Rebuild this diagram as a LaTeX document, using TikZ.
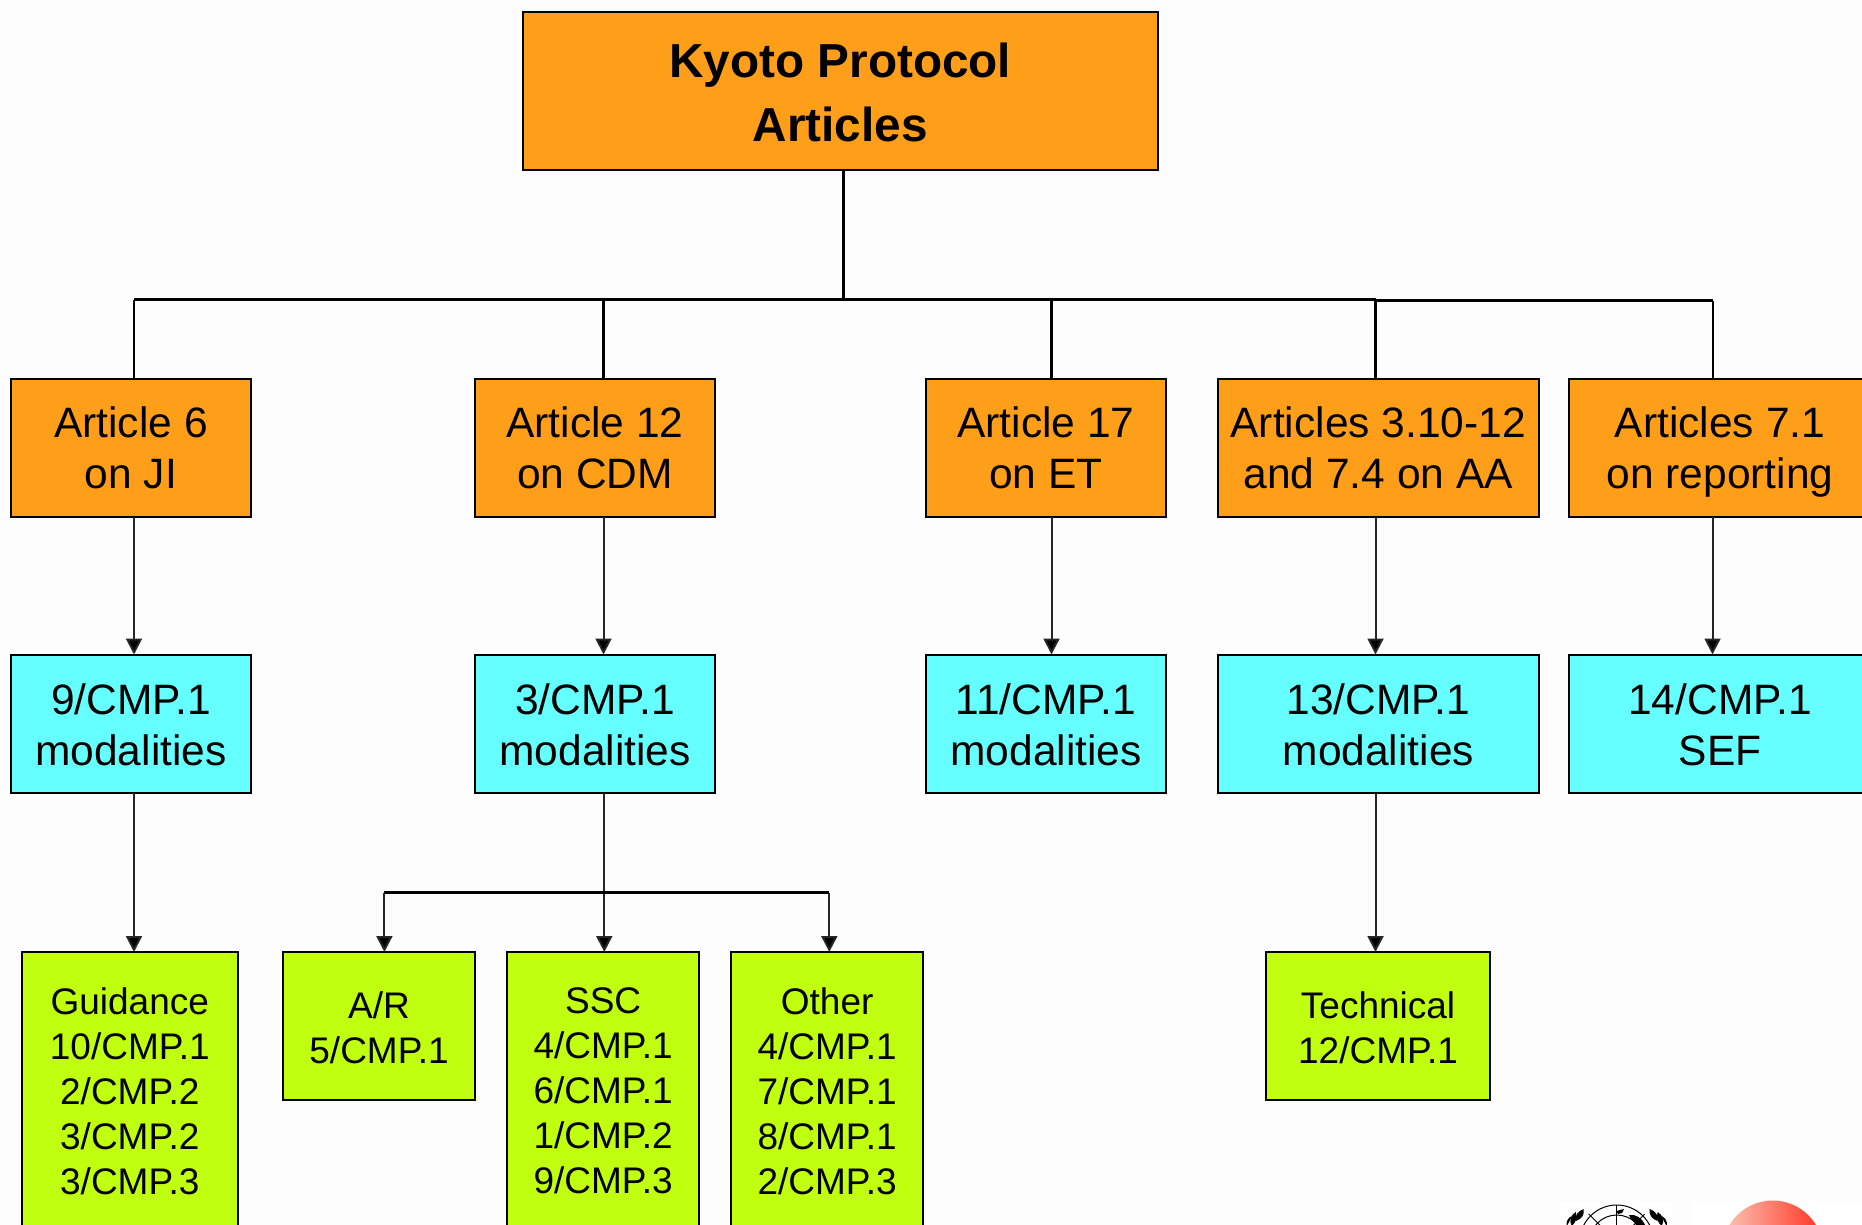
\documentclass[tikz,border=0pt]{standalone}
\usepackage{fontspec}
\setmainfont{Liberation Sans}
\usetikzlibrary{arrows.meta}
\definecolor{orangebox}{HTML}{FF9E18}
\definecolor{cyanbox}{HTML}{66FFFF}
\definecolor{greenbox}{HTML}{C0FF10}
\definecolor{pagebg}{HTML}{FDFDFD}
\definecolor{sphereL}{HTML}{FBC8B8}
\definecolor{sphereR}{HTML}{FF3020}
\newcommand{\nodepth}[1]{\raisebox{0pt}[\height][0pt]{#1}}
\newcommand{\topfix}[1]{\rule{0pt}{#1pt}}
\tikzset{
  box/.style={draw=black,line width=2pt,inner sep=0pt,outer sep=0pt,align=center,text=black},
  titlebox/.style={box,fill=orangebox,minimum width=635.5pt,minimum height=158pt,
    font=\fontsize{47.7}{64}\selectfont\bfseries},
  articlebox/.style={box,fill=orangebox,minimum height=138pt,font=\fontsize{42.5}{51}\selectfont},
  decisionbox/.style={box,fill=cyanbox,minimum height=138.5pt,font=\fontsize{42.5}{51}\selectfont},
  tallbox/.style={box,fill=greenbox,minimum height=278pt,font=\fontsize{37}{45}\selectfont},
  shortbox/.style={box,fill=greenbox,minimum height=148pt,font=\fontsize{37}{45}\selectfont},
  bus/.style={draw=black,line width=2.7pt},
  busstem/.style={draw=black,line width=3pt},
  thinline/.style={draw=black,line width=2pt},
  arrowline/.style={draw=black!85,line width=2pt,-{Triangle[length=16pt,width=16pt,fill=black]}},
}
\begin{document}
\begin{tikzpicture}[x=1pt,y=-1pt]
\useasboundingbox (0,0) rectangle (1862,1225);
\clip (0,0) rectangle (1862,1225);
\fill[pagebg] (0,0) rectangle (1862,1225);

% named stem positions
\coordinate (xroot) at (843,299.5);
\coordinate (x6) at (134,299.5);
\coordinate (x12) at (603.5,299.5);
\coordinate (x17) at (1051.5,299.5);
\coordinate (x310) at (1375.5,299.5);
\coordinate (x310b) at (1375.5,300.7);
\coordinate (x71) at (1712.5,300.7);
\coordinate (xar) at (384.4,892.5);
\coordinate (xssc) at (604.3,892.5);
\coordinate (xother) at (829.3,892.5);

% title
\node[titlebox] (root) at (840.25,91) {\topfix{37.5}Kyoto Protocol\\Articles};

% articles
\node[articlebox,minimum width=240pt] (a6) at (131,448) {Article 6\\on JI};
\node[articlebox,minimum width=240pt] (a12) at (595,448) {Article 12\\on CDM};
\node[articlebox,minimum width=240pt] (a17) at (1046,448) {Article 17\\on ET};
\node[articlebox,minimum width=320.5pt] (a310) at (1378.25,448) {Articles 3.10-12\\and 7.4 on AA};
\node[articlebox,minimum width=302pt] (a71) at (1720,448) {Articles 7.1\\\nodepth{on reporting}};

% decisions
\node[decisionbox,minimum width=240pt] (d6) at (131,723.75) {\topfix{33.4}9/CMP.1\\modalities};
\node[decisionbox,minimum width=240pt] (d12) at (595,723.75) {\topfix{33.4}3/CMP.1\\modalities};
\node[decisionbox,minimum width=240pt] (d17) at (1046,723.75) {\topfix{33.4}11/CMP.1\\modalities};
\node[decisionbox,minimum width=320.5pt] (d310) at (1378.25,723.75) {\topfix{33.4}13/CMP.1\\modalities};
\node[decisionbox,minimum width=302pt] (d71) at (1720,723.75) {\topfix{33.4}14/CMP.1\\SEF};

% green boxes
\node[tallbox,minimum width=216.5pt] (guid) at (129.75,1091) {Guidance\\10/CMP.1\\2/CMP.2\\3/CMP.2\\3/CMP.3};
\node[shortbox,minimum width=192pt] (ar) at (379,1026) {\topfix{30}A/R\\5/CMP.1};
\node[tallbox,minimum width=192.3pt] (ssc) at (603.15,1091) {SSC\\4/CMP.1\\6/CMP.1\\1/CMP.2\\9/CMP.3};
\node[tallbox,minimum width=192.3pt] (other) at (827.15,1091) {Other\\4/CMP.1\\7/CMP.1\\8/CMP.1\\2/CMP.3};
\node[shortbox,minimum width=224pt] (tech) at (1378,1026) {\topfix{30}Technical\\12/CMP.1};

% top tree
\draw[busstem] (xroot |- root.south) -- (xroot);
\draw[bus] (x6) -- (x310);
\draw[bus] (x310b) -- (x71);
\draw[thinline] (x6) -- (x6 |- a6.north);
\draw[busstem] (x12) -- (x12 |- a12.north);
\draw[busstem] (x17) -- (x17 |- a17.north);
\draw[busstem] (x310) -- (x310 |- a310.north);
\draw[thinline] (x71) -- (x71 |- a71.north);

% article to decision
\draw[arrowline] (x6 |- a6.south) -- (x6 |- d6.north);
\draw[arrowline] (x12 |- a12.south) -- (x12 |- d12.north);
\draw[arrowline] (x17 |- a17.south) -- (x17 |- d17.north);
\draw[arrowline] (x310 |- a310.south) -- (x310 |- d310.north);
\draw[arrowline] (x71 |- a71.south) -- (x71 |- d71.north);

% decision to guidance
\draw[arrowline] (x6 |- d6.south) -- (x6 |- guid.north);
\draw[arrowline] (xssc |- d12.south) -- (xssc |- ssc.north);
\draw[bus] (xar) -- (xother);
\draw[arrowline] (xar) -- (xar |- ar.north);
\draw[arrowline] (xother) -- (xother |- other.north);
\draw[arrowline] (x310 |- d310.south) -- (x310 |- tech.north);

% UN emblem (cut by the page edge)
\fill[white] (1560,1203) rectangle (1672,1225);
\begin{scope}
\clip (1560,1203) rectangle (1672,1225);
\draw[black,line width=1pt] (1616.7,1242) circle (37) circle (27) circle (16);
\draw[black,line width=1pt] (1616.7,1205) -- (1616.7,1225);
\draw[black,line width=1pt] (1616.7,1242) -- ++(-28,-28);
\draw[black,line width=1pt] (1616.7,1242) -- ++(28,-28);
\fill[black] (1629,1215) .. controls (1636,1214) and (1642,1218) .. (1645,1225) -- (1636,1225) .. controls (1634,1221) and (1630,1219) .. (1629,1215);
\fill[black] (1616,1211) -- (1624,1209) -- (1622,1213) -- (1618,1214) -- cycle;
\foreach \s in {1,-1}{
  \fill[black] ({1616.7+\s*(-33)},1209) .. controls ({1616.7+\s*(-32)},1215) and ({1616.7+\s*(-35)},1219) .. ({1616.7+\s*(-41)},1221) .. controls ({1616.7+\s*(-42)},1216) and ({1616.7+\s*(-39)},1211) .. ({1616.7+\s*(-33)},1209);
  \fill[black] ({1616.7+\s*(-41)},1212) .. controls ({1616.7+\s*(-39)},1217) and ({1616.7+\s*(-41)},1223) .. ({1616.7+\s*(-45)},1226) .. controls ({1616.7+\s*(-48)},1221) and ({1616.7+\s*(-46)},1215) .. ({1616.7+\s*(-41)},1212);
  \fill[black] ({1616.7+\s*(-45)},1216) .. controls ({1616.7+\s*(-46)},1219) and ({1616.7+\s*(-48)},1223) .. ({1616.7+\s*(-50)},1226) .. controls ({1616.7+\s*(-51)},1222) and ({1616.7+\s*(-49)},1218) .. ({1616.7+\s*(-45)},1216);
}
\end{scope}

% red sphere (cut by the page edge)
\fill[white] (1690,1201) rectangle (1862,1225);
\begin{scope}
\clip (1772.7,1251) circle (50.5);
\shade[left color=sphereL,right color=sphereR] (1722,1200) rectangle (1823.5,1225);
\end{scope}
\end{tikzpicture}
\end{document}
